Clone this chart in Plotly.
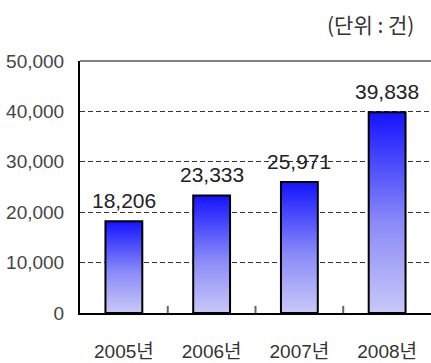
import plotly.graph_objects as go

categories = ["2005년", "2006년", "2007년", "2008년"]
values = [18206, 23333, 25971, 39838]
y_ticks = [0, 10000, 20000, 30000, 40000, 50000]
unit_label = "(단위 : 건)"

FONT = "Liberation Sans, Arial, Noto Sans CJK KR, sans-serif"
bar_w = 0.42

fig = go.Figure()
for i, v in enumerate(values):
    x0, x1 = i - bar_w / 2, i + bar_w / 2
    fig.add_trace(go.Scatter(
        x=[x0, x0, x1, x1, x0], y=[0, v, v, 0, 0],
        mode="lines", fill="toself",
        line=dict(color="#000000", width=2),
        fillgradient=dict(type="vertical",
                          colorscale=[[0, "#c8c8f8"], [0.45, "#8a8af8"], [1, "#1414ff"]]),
        showlegend=False, hoverinfo="skip",
    ))
    fig.add_annotation(x=i, y=v, text=f"{v:,}", showarrow=False,
                       yanchor="bottom", yshift=7,
                       font=dict(family=FONT, size=21, color="#222222"))

# category-boundary tick marks on the x axis
for i in range(len(categories) - 1):
    fig.add_shape(type="line", xref="x", yref="paper", x0=i + 0.5, x1=i + 0.5,
                  y0=0, y1=0.028, line=dict(color="#666666", width=2))

fig.add_annotation(xref="paper", yref="paper", x=0.957, y=1.147,
                   xanchor="right", yanchor="middle", text=unit_label, showarrow=False,
                   font=dict(family="Noto Sans CJK KR, sans-serif", size=21, color="#333333"))

fig.add_shape(type="line", xref="paper", yref="paper", x0=0, x1=1, y0=1, y1=1,
              line=dict(color="#808080", width=2))

fig.update_layout(
    width=431, height=363,
    margin=dict(l=80, r=0, t=61, b=50),
    paper_bgcolor="white", plot_bgcolor="white",
    xaxis=dict(range=[-0.5, 3.5], tickmode="array", tickvals=list(range(len(categories))),
               ticktext=categories, ticks="", showgrid=False, zeroline=False,
               showline=True, linecolor="#000000", linewidth=2,
               tickfont=dict(family=FONT, size=19, color="#333333"),
               ticklabelstandoff=20),
    yaxis=dict(range=[0, 50000], tickmode="array", tickvals=y_ticks,
               ticktext=[f"{t:,}" for t in y_ticks], ticks="",
               showgrid=True, gridcolor="#333333", griddash="5px,3px", gridwidth=1,
               zeroline=False, showline=True, linecolor="#000000", linewidth=2,
               tickfont=dict(family=FONT, size=19, color="#444444"),
               ticklabelstandoff=10),
)

fig.write_html("out.html")
